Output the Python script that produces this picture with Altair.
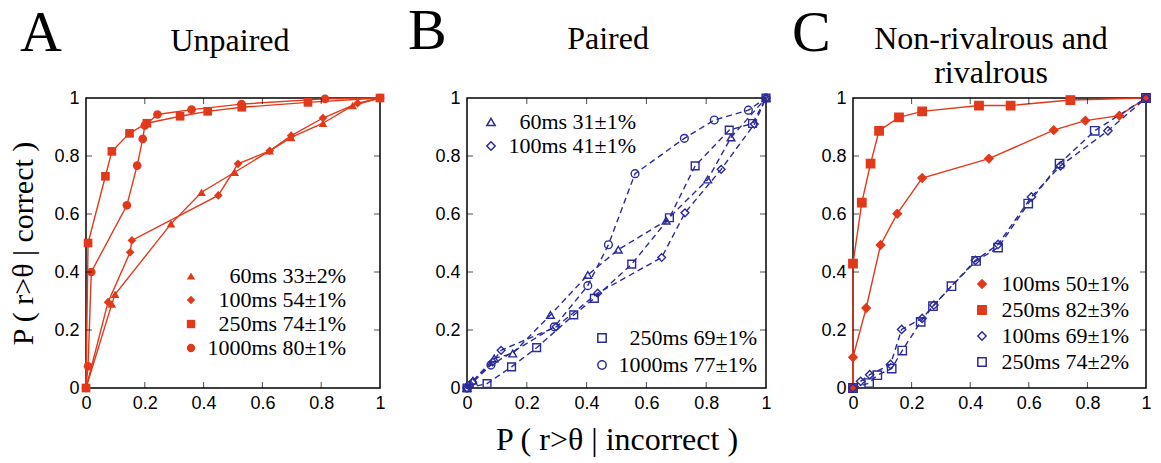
import altair as alt
import pandas as pd

RED = "#e2391b"
BLUE = "#2a2a9c"
SERIF = "Liberation Serif"
SANS = "Liberation Sans"

# ---------------- Panel A: Unpaired ----------------
A_labels = ["60ms 33±2%", "100ms 54±1%", "250ms 74±1%", "1000ms 80±1%"]
A_shapes = ["triangle-up", "diamond", "square", "circle"]
A_60_x = [0, 0.088, 0.099, 0.289, 0.393, 0.506, 0.625, 0.698, 0.806, 0.907, 1]
A_60_y = [0, 0.29, 0.323, 0.566, 0.675, 0.744, 0.818, 0.864, 0.913, 0.974, 1]
A_100_x = [0, 0.075, 0.15, 0.156, 0.45, 0.517, 0.625, 0.698, 0.806, 0.924, 1]
A_100_y = [0, 0.296, 0.468, 0.509, 0.664, 0.773, 0.818, 0.87, 0.931, 0.982, 1]
A_250_x = [0, 0.007, 0.066, 0.088, 0.148, 0.207, 0.32, 0.414, 0.53, 0.755, 1]
A_250_y = [0, 0.5, 0.73, 0.816, 0.878, 0.913, 0.937, 0.954, 0.968, 0.985, 1]
A_1000_x = [0, 0.007, 0.018, 0.139, 0.174, 0.193, 0.2, 0.243, 0.359, 0.529, 0.813, 1]
A_1000_y = [0, 0.075, 0.4, 0.63, 0.767, 0.859, 0.905, 0.943, 0.96, 0.979, 0.997, 1]

# ---------------- Panel B: Paired ----------------
B1_labels = ["60ms 31±1%", "100ms 41±1%"]
B1_shapes = ["triangle-up", "diamond"]
B2_labels = ["250ms 69±1%", "1000ms 77±1%"]
B2_shapes = ["square", "circle"]
B_60_x = [0, 0.02, 0.091, 0.153, 0.279, 0.404, 0.506, 0.666, 0.805, 0.883, 1]
B_60_y = [0, 0.025, 0.102, 0.119, 0.252, 0.39, 0.477, 0.577, 0.719, 0.864, 1]
B_100_x = [0, 0.019, 0.086, 0.114, 0.298, 0.437, 0.651, 0.729, 0.85, 0.961, 1]
B_100_y = [0, 0.021, 0.09, 0.13, 0.211, 0.327, 0.45, 0.604, 0.754, 0.91, 1]
B_250_x = [0, 0.067, 0.149, 0.233, 0.357, 0.426, 0.551, 0.677, 0.763, 0.877, 0.955, 1]
B_250_y = [0, 0.015, 0.073, 0.139, 0.252, 0.309, 0.427, 0.587, 0.766, 0.889, 0.912, 1]
B_1000_x = [0, 0.008, 0.08, 0.292, 0.404, 0.473, 0.562, 0.727, 0.827, 0.941, 1]
B_1000_y = [0, 0.009, 0.079, 0.211, 0.353, 0.494, 0.739, 0.861, 0.924, 0.958, 1]

# ---------------- Panel C: Non-rivalrous and rivalrous ----------------
C_labels = ["100ms 50±1%", "250ms 82±3%", "100ms 69±1%", "250ms 74±2%"]
C_shapes = ["diamond", "square", "diamond", "square"]
C_strokes = [RED, RED, BLUE, BLUE]
C_fills = [RED, RED, "transparent", "transparent"]
C_r100_x = [0, 0, 0.045, 0.094, 0.151, 0.236, 0.464, 0.685, 0.793, 0.909, 1]
C_r100_y = [0, 0.106, 0.276, 0.493, 0.601, 0.724, 0.791, 0.889, 0.922, 0.939, 1]
C_r250_x = [0, 0, 0.03, 0.06, 0.089, 0.157, 0.236, 0.43, 0.538, 0.742, 1]
C_r250_y = [0, 0.429, 0.639, 0.774, 0.887, 0.933, 0.954, 0.974, 0.974, 0.993, 1]
C_b100_x = [0, 0.026, 0.057, 0.128, 0.166, 0.236, 0.276, 0.418, 0.495, 0.609, 0.708, 0.87, 1]
C_b100_y = [0, 0.023, 0.046, 0.081, 0.202, 0.24, 0.286, 0.44, 0.495, 0.659, 0.766, 0.887, 1]
C_b250_x = [0, 0.055, 0.083, 0.132, 0.168, 0.231, 0.273, 0.336, 0.42, 0.495, 0.598, 0.705, 0.825, 1]
C_b250_y = [0, 0.017, 0.044, 0.067, 0.129, 0.228, 0.282, 0.351, 0.438, 0.484, 0.636, 0.774, 0.887, 1]

AXIS_VALUES = [0, 0.2, 0.4, 0.6, 0.8, 1]
TICK_VALUES = [0.2, 0.4, 0.6, 0.8]
X_TITLE = "P ( r>θ | incorrect )"
Y_TITLE = "P ( r>θ | correct )"
H = 290


def make_df(series):
    rows = []
    for label, xs, ys in series:
        for i, (x, y) in enumerate(zip(xs, ys)):
            rows.append({"x": x, "y": y, "label": label, "i": i})
    return pd.DataFrame(rows)


SC = alt.Scale(domain=[0, 1], nice=False, zero=False)


def xenc(title, field="x"):
    return alt.X(field + ":Q", scale=SC, axis=alt.Axis(
        values=AXIS_VALUES, format="~g", ticks=False, domain=False, grid=False,
        labelFont=SANS, labelFontSize=18, labelPadding=6, labelFlush=False,
        labelOverlap=False, labelColor="black", title=title, titleFont=SERIF,
        titleFontSize=32, titleFontWeight="normal", titlePadding=12, titleColor="black"))


def yenc(title, field="y"):
    return alt.Y(field + ":Q", scale=SC, axis=alt.Axis(
        values=AXIS_VALUES, format="~g", ticks=False, domain=False, grid=False,
        labelFont=SANS, labelFontSize=18, labelPadding=7, labelFlush=False,
        labelOverlap=False, labelColor="black", title=title, titleFont=SERIF,
        titleFontSize=30, titleFontWeight="normal", titlePadding=15, titleColor="black"))


def inner_ticks(w, xt, yt):
    d = pd.DataFrame({"v": TICK_VALUES})
    base = alt.Chart(d)
    L = 6
    m = dict(color="black", size=L, thickness=1)
    return [
        base.mark_tick(**m).encode(x=xenc(xt, "v"), y=alt.value(H - L / 2)),
        base.mark_tick(**m).encode(x=xenc(xt, "v"), y=alt.value(L / 2)),
        base.mark_tick(**m).encode(y=yenc(yt, "v"), x=alt.value(L / 2)),
        base.mark_tick(**m).encode(y=yenc(yt, "v"), x=alt.value(w - L / 2)),
    ]


def text(t, dx, dy, size, align):
    return alt.Chart(pd.DataFrame({"t": [t]})).mark_text(
        font=SERIF, fontSize=size, align=align, baseline="alphabetic", color="black"
    ).encode(text="t:N", x=alt.value(dx), y=alt.value(dy))


def legend(lx, ly, row_pad, label_offset, extra=None):
    # right-aligned labels: anchor sits label_offset to the right of the symbol column
    kw = dict(title=None, orient="none", legendX=lx, legendY=ly, labelFont=SERIF,
              labelFontSize=22, labelColor="black", symbolSize=70, rowPadding=row_pad,
              labelOffset=label_offset, symbolStrokeWidth=1.5, labelLimit=300,
              labelAlign="right")
    if extra:
        kw.update(extra)
    return alt.Legend(**kw)


# ---- A ----
WA = 294
dfA = make_df([(A_labels[0], A_60_x, A_60_y), (A_labels[1], A_100_x, A_100_y),
               (A_labels[2], A_250_x, A_250_y), (A_labels[3], A_1000_x, A_1000_y)])
linesA = alt.Chart(dfA).mark_line(color=RED, strokeWidth=1.4).encode(
    x=xenc(None), y=yenc(Y_TITLE), detail="label:N", order="i:Q")
pointsA = alt.Chart(dfA).mark_point(filled=True, color=RED, size=75, opacity=1).encode(
    x=xenc(None), y=yenc(Y_TITLE),
    shape=alt.Shape("label:N", scale=alt.Scale(domain=A_labels, range=A_shapes),
                    legend=legend(94, 167, 2, 144, {"symbolFillColor": RED, "symbolStrokeColor": RED})))
chartA = alt.layer(linesA, pointsA, *inner_ticks(WA, None, Y_TITLE),
                   text("A", -66, -47, 58, "left"),
                   text("Unpaired", 144, -47, 32, "center")).properties(width=WA, height=H)

# ---- B ----
WB = 299
dfB1 = make_df([(B1_labels[0], B_60_x, B_60_y), (B1_labels[1], B_100_x, B_100_y)])
dfB2 = make_df([(B2_labels[0], B_250_x, B_250_y), (B2_labels[1], B_1000_x, B_1000_y)])
dfB = pd.concat([dfB1, dfB2], ignore_index=True)
linesB = alt.Chart(dfB).mark_line(color=BLUE, strokeWidth=1.4, strokeDash=[6, 4]).encode(
    x=xenc(X_TITLE), y=yenc(None), detail="label:N", order="i:Q")
pointsB1 = alt.Chart(dfB1).mark_point(filled=False, color=BLUE, size=60, strokeWidth=1.4, opacity=1).encode(
    x=xenc(X_TITLE), y=yenc(None),
    shape=alt.Shape("label:N", scale=alt.Scale(domain=B1_labels, range=B1_shapes),
                    legend=legend(13, 13, 2, 134, {"symbolStrokeColor": BLUE, "symbolFillColor": "transparent"})))
pointsB2 = alt.Chart(dfB2).mark_point(filled=False, color=BLUE, size=60, strokeWidth=1.4, opacity=1).encode(
    x=xenc(X_TITLE), y=yenc(None),
    shape=alt.Shape("label:N", scale=alt.Scale(domain=B2_labels, range=B2_shapes),
                    legend=legend(124, 229, 5, 144, {"symbolStrokeColor": BLUE, "symbolFillColor": "transparent"})))
chartB = alt.layer(linesB, pointsB1, pointsB2, *inner_ticks(WB, X_TITLE, None),
                   text("B", -59, -49, 58, "left"),
                   text("Paired", 141, -49, 32, "center")).resolve_scale(
    shape="independent").properties(width=WB, height=H)

# ---- C ----
WC = 293
dfCr = make_df([(C_labels[0], C_r100_x, C_r100_y), (C_labels[1], C_r250_x, C_r250_y)])
dfCb = make_df([(C_labels[2], C_b100_x, C_b100_y), (C_labels[3], C_b250_x, C_b250_y)])
dfC = pd.concat([dfCr, dfCb], ignore_index=True)
linesCr = alt.Chart(dfCr).mark_line(color=RED, strokeWidth=1.4).encode(
    x=xenc(None), y=yenc(None), detail="label:N", order="i:Q")
linesCb = alt.Chart(dfCb).mark_line(color=BLUE, strokeWidth=1.4, strokeDash=[6, 4]).encode(
    x=xenc(None), y=yenc(None), detail="label:N", order="i:Q")
legC = legend(118, 175, 4, 136)
pointsC = alt.Chart(dfC).mark_point(size=70, strokeWidth=1.4, opacity=1).encode(
    x=xenc(None), y=yenc(None),
    shape=alt.Shape("label:N", scale=alt.Scale(domain=C_labels, range=C_shapes), legend=legC),
    stroke=alt.Stroke("label:N", scale=alt.Scale(domain=C_labels, range=C_strokes), legend=legC),
    fill=alt.Fill("label:N", scale=alt.Scale(domain=C_labels, range=C_fills), legend=legC))
chartC = alt.layer(linesCr, linesCb, pointsC, *inner_ticks(WC, None, None),
                   text("C", -61, -47, 58, "left"),
                   text("Non-rivalrous and", 138, -49, 32, "center"),
                   text("rivalrous", 138, -15, 32, "center")).properties(width=WC, height=H)

chart = alt.hconcat(chartA, chartB, chartC, spacing=87, bounds="flush").resolve_scale(
    shape="independent", fill="independent", stroke="independent"
).properties(
    padding={"left": 8, "top": 2, "right": 5, "bottom": 5}, background="white"
).configure_view(stroke="black", strokeWidth=1.5)

chart.save("out.html", embed_options={"renderer": "svg", "actions": False})
